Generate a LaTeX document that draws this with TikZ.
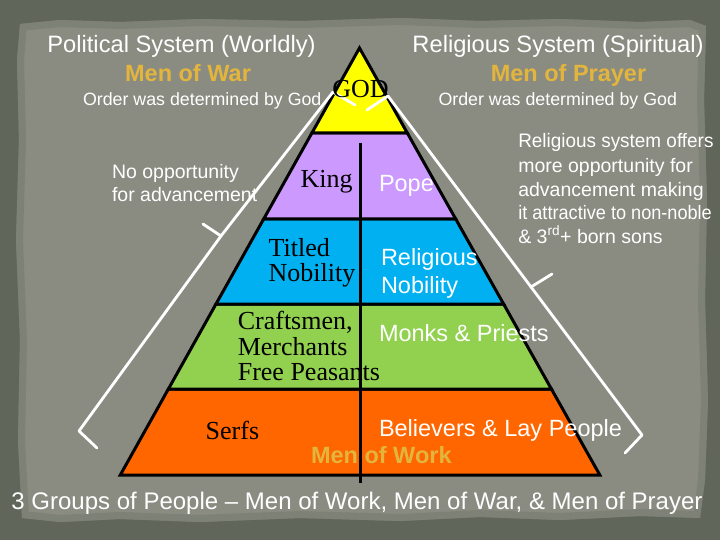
\documentclass[tikz,border=0pt]{standalone}
\usepackage{fontspec}
\setmainfont{Liberation Sans}
\newfontfamily\serfont{Liberation Serif}
\definecolor{edgec}{HTML}{61665A}
\definecolor{paper}{HTML}{8A8C82}
\definecolor{paperdk}{HTML}{777A6E}
\definecolor{gold}{HTML}{E3B53C}
\definecolor{pyel}{HTML}{FFFF00}
\definecolor{ppur}{HTML}{CC99FF}
\definecolor{pblu}{HTML}{00B0F0}
\definecolor{pgrn}{HTML}{92D050}
\definecolor{pora}{HTML}{FF6600}
\begin{document}
\begin{tikzpicture}[x=1pt,y=-1pt,
  band/.style={draw=black,line width=3pt,line join=miter},
  wbrace/.style={draw=white,line width=2.8pt,line cap=round,line join=round},
  txt/.style={anchor=base west,inner sep=0pt,outer sep=0pt},
  wt/.style={txt,text=white},
  bt/.style={txt,text=black,font=\serfont\fontsize{26}{28}\selectfont},
  gt/.style={txt,text=gold,font=\bfseries\fontsize{23.5}{28}\selectfont},
  inw/.style={wt,font=\fontsize{23.5}{28}\selectfont},
  sidew/.style={wt,font=\fontsize{19.5}{23}\selectfont},
  ordw/.style={wt,font=\fontsize{17.8}{21}\selectfont},
  titw/.style={wt,font=\fontsize{23.7}{28}\selectfont}]
\useasboundingbox (0,0) rectangle (720,540);
\clip (0,0) rectangle (720,540);
% background
\fill[edgec] (0,0) rectangle (720,540);
\def\paperpath{(20,24) -- (60,20) -- (120,22) -- (200,19) -- (300,21) -- (400,18) -- (480,21) -- (560,19) -- (640,22) -- (690,20) -- (706,26)
  -- (704,100) -- (707,200) -- (705,300) -- (708,400) -- (705,480) -- (700,518)
  -- (640,516) -- (560,520) -- (480,517) -- (400,521) -- (300,518) -- (200,522) -- (120,519) -- (60,522) -- (22,518)
  -- (18,440) -- (20,340) -- (16,240) -- (19,140) -- (17,60) -- cycle}
\path[fill=paper] \paperpath;
\begin{scope}
\clip \paperpath;
\draw[paperdk,line width=14pt,opacity=0.6] \paperpath;
\end{scope}
% pyramid coordinates
\coordinate (ap) at (359.5,48);
\coordinate (l1) at (311.9,133); \coordinate (r1) at (407.3,133);
\coordinate (l2) at (263.7,219); \coordinate (r2) at (455.7,219);
\coordinate (l3) at (216.0,304); \coordinate (r3) at (503.6,304);
\coordinate (l4) at (168.4,389); \coordinate (r4) at (551.4,389);
\coordinate (l5) at (120.3,475); \coordinate (r5) at (599.8,475);
\path[band,fill=pora] (l4) -- (r4) -- (r5) -- (l5) -- cycle;
\path[band,fill=pgrn] (l3) -- (r3) -- (r4) -- (l4) -- cycle;
\path[band,fill=pblu] (l2) -- (r2) -- (r3) -- (l3) -- cycle;
\path[band,fill=ppur] (l1) -- (r1) -- (r2) -- (l2) -- cycle;
\path[band,fill=pyel] (ap) -- (r1) -- (l1) -- cycle;
\coordinate (vt) at (360.4,143);
\coordinate (vb) at (360.4,483);
\draw[black,line width=2.5pt] (vt) -- (vb);
% braces
\coordinate (a1) at (355,105); \coordinate (a2) at (333,92); \coordinate (a3) at (221,236);
\coordinate (a4) at (203,224); \coordinate (a5) at (79,431); \coordinate (a6) at (97,448);
\draw[wbrace] (a1) -- (a2) -- (a3) -- (a4);
\draw[wbrace] (a3) -- (a5) -- (a6);
\coordinate (b1) at (367,110); \coordinate (b2) at (388,96); \coordinate (b3) at (531,287);
\coordinate (b4) at (552,274); \coordinate (b5) at (642,435); \coordinate (b6) at (625,453);
\draw[wbrace] (b1) -- (b2) -- (b3) -- (b4);
\draw[wbrace] (b3) -- (b5) -- (b6);
% titles
\node[titw,anchor=base] (pol) at (181.5,53) {Political System (Worldly)};
\node[titw,anchor=base] (rel) at (558,53) {Religious System (Spiritual)};
\node[gt,anchor=base] (mwar) at (188,82) {Men of War};
\node[gt,anchor=base] (mpray) at (568.5,82) {Men of Prayer};
\node[ordw] (ord1) at (83,106) {Order was determined by God};
\node[ordw] (ord2) at (438.5,106) {Order was determined by God};
\node[txt,text=black,font=\serfont\fontsize{26}{28}\selectfont,anchor=base] (god) at (360.5,98) {GOD};
% left side note
\node[sidew] (no1) at (112,178.5) {No opportunity};
\node[sidew] (no2) at (112,201.5) {for advancement};
% right side note
\node[sidew] (rs1) at (518.3,147.3) {\scalebox{0.97}[1]{Religious system offers}};
\node[sidew] (rs2) at (518.3,172.3) {more opportunity for};
\node[sidew] (rs3) at (518.3,196.5) {advancement making};
\node[sidew] (rs4) at (518.3,220) {\scalebox{0.93}[1]{it attractive to non-noble}};
\node[sidew] (rs5) at (518.3,243.5) {\& 3\textsuperscript{rd}+ born sons};
% pyramid labels
\node[bt] (king) at (300.5,187.3) {King};
\node[inw] (pope) at (379,191.7) {Pope};
\node[bt] (tit1) at (268.6,256.7) {Titled};
\node[bt] (tit2) at (268.6,281.7) {Nobility};
\node[inw] (rn1) at (381,265) {Religious};
\node[inw] (rn2) at (381,293.3) {Nobility};
\node[bt] (cr1) at (237.8,329.3) {Craftsmen,};
\node[bt] (cr2) at (237.8,355) {Merchants};
\node[bt] (cr3) at (237.8,380.5) {Free Peasants};
\node[inw] (monks) at (379,341) {Monks \& Priests};
\node[bt] (serfs) at (205.7,439.3) {Serfs};
\node[inw] (believ) at (379,436) {Believers \& Lay People};
\node[gt] (mwork) at (311,463.3) {Men of Work};
\node[wt,font=\fontsize{24}{28}\selectfont] (groups) at (11.5,509.3) {3 Groups of People – Men of Work, Men of War, \& Men of Prayer};
\end{tikzpicture}
\end{document}
